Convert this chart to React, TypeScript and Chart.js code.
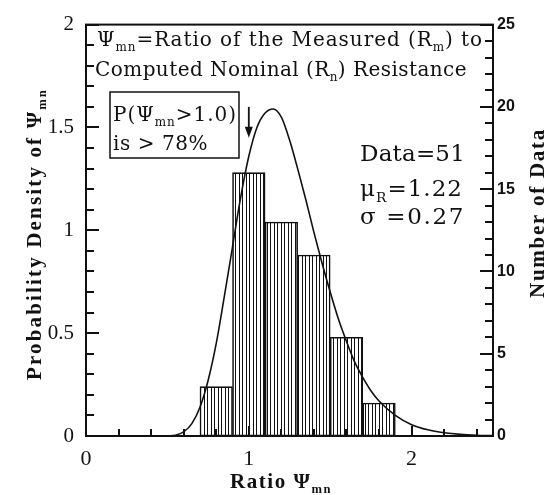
import React, { useEffect, useRef } from 'react';
import { Chart, registerables } from 'chart.js';

Chart.register(...registerables);

// ---------- data ----------
const BIN_CENTERS = [0.8, 1.0, 1.2, 1.4, 1.6, 1.8];
const BIN_COUNTS = [3, 16, 13, 11, 6, 2];

const CURVE_X = [0.5, 0.55, 0.6, 0.65, 0.7, 0.75, 0.8, 0.85, 0.9, 0.95, 1.0, 1.05, 1.1, 1.15, 1.2, 1.25, 1.3, 1.35, 1.4, 1.45, 1.5, 1.55, 1.6, 1.65, 1.7, 1.75, 1.8, 1.9, 2.0, 2.1, 2.2, 2.3, 2.4, 2.5];
const CURVE_Y = [0.0, 0.004, 0.02, 0.06, 0.14, 0.27, 0.45, 0.68, 0.92, 1.16, 1.36, 1.5, 1.57, 1.59, 1.55, 1.44, 1.3, 1.15, 0.99, 0.84, 0.7, 0.57, 0.46, 0.36, 0.285, 0.22, 0.17, 0.1, 0.055, 0.03, 0.016, 0.008, 0.004, 0.002];

const X_TICK_VALUES = [0, 1, 2];
const X_TICK_LABELS = ['0', '1', '2'];
const YL_TICK_VALUES = [0, 0.5, 1, 1.5, 2];
const YL_TICK_LABELS = ['0', '0.5', '1', '1.5', '2'];
const YR_TICK_VALUES = [0, 5, 10, 15, 20, 25];
const YR_TICK_LABELS = ['0', '5', '10', '15', '20', '25'];

const TITLE_LINES = ['Ψ_{mn}=Ratio of the Measured (R_{m}) to', 'Computed Nominal (R_{n}) Resistance'];
const NOTE_LINES = ['P(Ψ_{mn}>1.0)', 'is > 78%'];
const STATS_LINES = ['Data=51', 'μ_{R}=1.22', 'σ =0.27'];
const X_TITLE = 'Ratio Ψ_{mn}';
const YL_TITLE = 'Probability Density of Ψ_{mn}';
const YR_TITLE = 'Number of Data';

const ARROW_X = 1.0;
const ARROW_FROM = 1.6;
const ARROW_TO = 1.45;

const SERIF = "'Liberation Serif', 'Times New Roman', serif";
const BODY = "'DejaVu Serif', 'Liberation Serif', serif";
const NARROW = "'Liberation Sans Narrow', 'Liberation Sans', sans-serif";
const INK = '#111';

// ---------- rich text helpers ----------
type Part = { t: string; sub?: boolean };
type Style = { size: number; bold: boolean; family: string };

function parseRich(s: string): Part[] {
  const parts: Part[] = [];
  const re = /_\{([^}]*)\}/g;
  let last = 0;
  let m: RegExpExecArray | null;
  while ((m = re.exec(s))) {
    if (m.index > last) parts.push({ t: s.slice(last, m.index) });
    parts.push({ t: m[1], sub: true });
    last = re.lastIndex;
  }
  if (last < s.length) parts.push({ t: s.slice(last) });
  return parts;
}

function fontOf(st: Style, sub: boolean) {
  const size = sub ? st.size * 0.6 : st.size;
  return `${st.bold ? 'bold ' : ''}${size}px ${st.family}`;
}

function measureRich(ctx: any, parts: Part[], st: Style, spacing: number) {
  let w = 0;
  ctx.letterSpacing = `${spacing}px`;
  for (const p of parts) {
    ctx.font = fontOf(st, !!p.sub);
    w += ctx.measureText(p.t).width;
  }
  return w;
}

function fitSpacing(ctx: any, parts: Part[], st: Style, target: number) {
  const w0 = measureRich(ctx, parts, st, 0);
  const w1 = measureRich(ctx, parts, st, 1);
  const per = Math.max(0.01, w1 - w0);
  return (target - w0) / per;
}

function drawRich(ctx: any, text: string, x: number, y: number, st: Style, target: number, center = false) {
  const parts = parseRich(text);
  const sp = fitSpacing(ctx, parts, st, target);
  const w = measureRich(ctx, parts, st, sp);
  let cx = center ? x - w / 2 : x;
  ctx.letterSpacing = `${sp}px`;
  ctx.textAlign = 'left';
  ctx.textBaseline = 'alphabetic';
  for (const p of parts) {
    ctx.font = fontOf(st, !!p.sub);
    ctx.fillText(p.t, cx, y + (p.sub ? st.size * 0.26 : 0));
    cx += ctx.measureText(p.t).width;
  }
  ctx.letterSpacing = '0px';
}

function drawRotated(ctx: any, text: string, cx: number, cy: number, st: Style, target: number) {
  ctx.save();
  ctx.translate(cx, cy);
  ctx.rotate(-Math.PI / 2);
  drawRich(ctx, text, 0, 0, st, target, true);
  ctx.restore();
}

// ---------- plugins ----------
const whiteBg = {
  id: 'whiteBg',
  beforeDraw(chart: any) {
    const ctx = chart.ctx;
    ctx.save();
    ctx.fillStyle = '#fff';
    ctx.fillRect(0, 0, chart.width, chart.height);
    ctx.restore();
  },
};

const decor = {
  id: 'decor',
  afterDraw(chart: any) {
    const ctx = chart.ctx;
    const a = chart.chartArea;
    const x = chart.scales.x;
    const yL = chart.scales.yL;
    const yR = chart.scales.yR;
    ctx.save();
    ctx.strokeStyle = INK;
    ctx.fillStyle = INK;

    // frame
    ctx.lineWidth = 2;
    ctx.strokeRect(a.left, a.top, a.right - a.left, a.bottom - a.top);

    // inward ticks
    ctx.lineWidth = 2;
    ctx.beginPath();
    for (let i = 0; i <= 20; i++) {
      const py = Math.round(yL.getPixelForValue(i / 10));
      const len = i % 5 === 0 ? 13 : 8;
      ctx.moveTo(a.left, py);
      ctx.lineTo(a.left + len, py);
    }
    for (let c = 0; c <= 25; c++) {
      const py = Math.round(yR.getPixelForValue(c));
      const len = c % 5 === 0 ? 13 : 8;
      ctx.moveTo(a.right, py);
      ctx.lineTo(a.right - len, py);
    }
    for (let i = 0; i <= 12; i++) {
      const px = Math.round(x.getPixelForValue(i / 5));
      const len = i % 5 === 0 ? 10 : 7;
      ctx.moveTo(px, a.bottom);
      ctx.lineTo(px, a.bottom - len);
    }
    ctx.stroke();

    // arrow
    const ax = x.getPixelForValue(ARROW_X);
    const ay1 = yL.getPixelForValue(ARROW_FROM);
    const ay2 = yL.getPixelForValue(ARROW_TO);
    ctx.lineWidth = 1.8;
    ctx.beginPath();
    ctx.moveTo(ax, ay1);
    ctx.lineTo(ax, ay2 - 8);
    ctx.stroke();
    ctx.beginPath();
    ctx.moveTo(ax - 4, ay2 - 11);
    ctx.lineTo(ax + 4, ay2 - 11);
    ctx.lineTo(ax, ay2);
    ctx.closePath();
    ctx.fill();

    const body20: Style = { size: 20, bold: false, family: BODY };
    const body23: Style = { size: 23, bold: false, family: BODY };
    const axisT: Style = { size: 21, bold: true, family: SERIF };

    // title block
    drawRich(ctx, TITLE_LINES[0], 97, 46, body20, 386);
    drawRich(ctx, TITLE_LINES[1], 95, 76, body20, 372);

    // note box
    ctx.lineWidth = 1.5;
    ctx.strokeRect(110, 92, 129, 66);
    drawRich(ctx, NOTE_LINES[0], 113, 121, body20, 124);
    drawRich(ctx, NOTE_LINES[1], 113, 150, body20, 95);

    // stats
    drawRich(ctx, STATS_LINES[0], 360, 161, body23, 105);
    drawRich(ctx, STATS_LINES[1], 360, 196, body23, 103);
    drawRich(ctx, STATS_LINES[2], 360, 224, body23, 105);

    // axis titles
    drawRich(ctx, X_TITLE, 281, 488, axisT, 102, true);
    drawRotated(ctx, YL_TITLE, 41, 234, axisT, 292);
    drawRotated(ctx, YR_TITLE, 544, 213, axisT, 170);

    ctx.restore();
  },
};

export default function App() {
  const ref = useRef<HTMLCanvasElement>(null);

  useEffect(() => {
    const canvas = ref.current!;
    const pc = document.createElement('canvas');
    pc.width = 7;
    pc.height = 4;
    const pctx = pc.getContext('2d')!;
    pctx.fillStyle = '#fff';
    pctx.fillRect(0, 0, 7, 4);
    pctx.fillStyle = '#111';
    pctx.fillRect(1, 0, 1, 4);
    pctx.fillRect(4, 0, 1, 4);
    const hatch = canvas.getContext('2d')!.createPattern(pc, 'repeat');

    const chart = new Chart(canvas, {
      type: 'bar',
      data: {
        datasets: [
          {
            type: 'line',
            data: CURVE_X.map((v, i) => ({ x: v, y: CURVE_Y[i] })),
            xAxisID: 'x',
            yAxisID: 'yL',
            borderColor: INK,
            borderWidth: 1.6,
            pointRadius: 0,
            tension: 0.4,
            cubicInterpolationMode: 'monotone',
            fill: false,
            order: 0,
          } as any,
          {
            type: 'bar',
            data: BIN_CENTERS.map((v, i) => ({ x: v, y: BIN_COUNTS[i] })),
            xAxisID: 'x',
            yAxisID: 'yR',
            backgroundColor: hatch as any,
            borderColor: INK,
            borderWidth: 1.6,
            borderSkipped: false,
            barPercentage: 1,
            categoryPercentage: 1,
            order: 1,
          } as any,
        ],
      },
      options: {
        responsive: false,
        animation: false,
        devicePixelRatio: 1,
        layout: { padding: { top: 18, left: 0, right: 0, bottom: 0 } },
        plugins: { legend: { display: false }, tooltip: { enabled: false } },
        scales: {
          x: {
            type: 'linear',
            position: 'bottom',
            min: 0,
            max: 2.5,
            offset: false,
            grid: { display: false, drawTicks: false, offset: false },
            border: { display: false },
            ticks: {
              font: { family: SERIF, size: 22 },
              color: INK,
              padding: 10,
              includeBounds: false,
              callback: (v: any) => X_TICK_LABELS[X_TICK_VALUES.indexOf(Number(v))] ?? '',
            },
            afterBuildTicks: (s: any) => {
              s.ticks = X_TICK_VALUES.map((v) => ({ value: v }));
            },
            afterFit: (s: any) => {
              s.height = 59;
            },
          },
          yL: {
            type: 'linear',
            position: 'left',
            min: 0,
            max: 2,
            grid: { display: false, drawTicks: false },
            border: { display: false },
            ticks: {
              font: { family: SERIF, size: 21 },
              color: INK,
              padding: 12,
              callback: (v: any) => YL_TICK_LABELS[YL_TICK_VALUES.indexOf(Number(v))] ?? '',
            },
            afterBuildTicks: (s: any) => {
              s.ticks = YL_TICK_VALUES.map((v) => ({ value: v }));
            },
            afterFit: (s: any) => {
              s.width = 86;
            },
          },
          yR: {
            type: 'linear',
            position: 'right',
            min: 0,
            max: 25,
            grid: { display: false, drawTicks: false },
            border: { display: false },
            ticks: {
              font: { family: NARROW, size: 16, weight: 'bold' },
              color: INK,
              padding: 4,
              callback: (v: any) => YR_TICK_LABELS[YR_TICK_VALUES.indexOf(Number(v))] ?? '',
            },
            afterBuildTicks: (s: any) => {
              s.ticks = YR_TICK_VALUES.map((v) => ({ value: v }));
            },
            afterFit: (s: any) => {
              s.width = 62;
            },
          },
        },
      },
      plugins: [whiteBg, decor],
    } as any);

    return () => chart.destroy();
  }, []);

  return (
    <div style={{ position: 'absolute', left: 0, top: 0, width: 555, height: 495, background: '#fff' }}>
      <canvas ref={ref} width={555} height={495} style={{ display: 'block', width: 555, height: 495 }} />
    </div>
  );
}
